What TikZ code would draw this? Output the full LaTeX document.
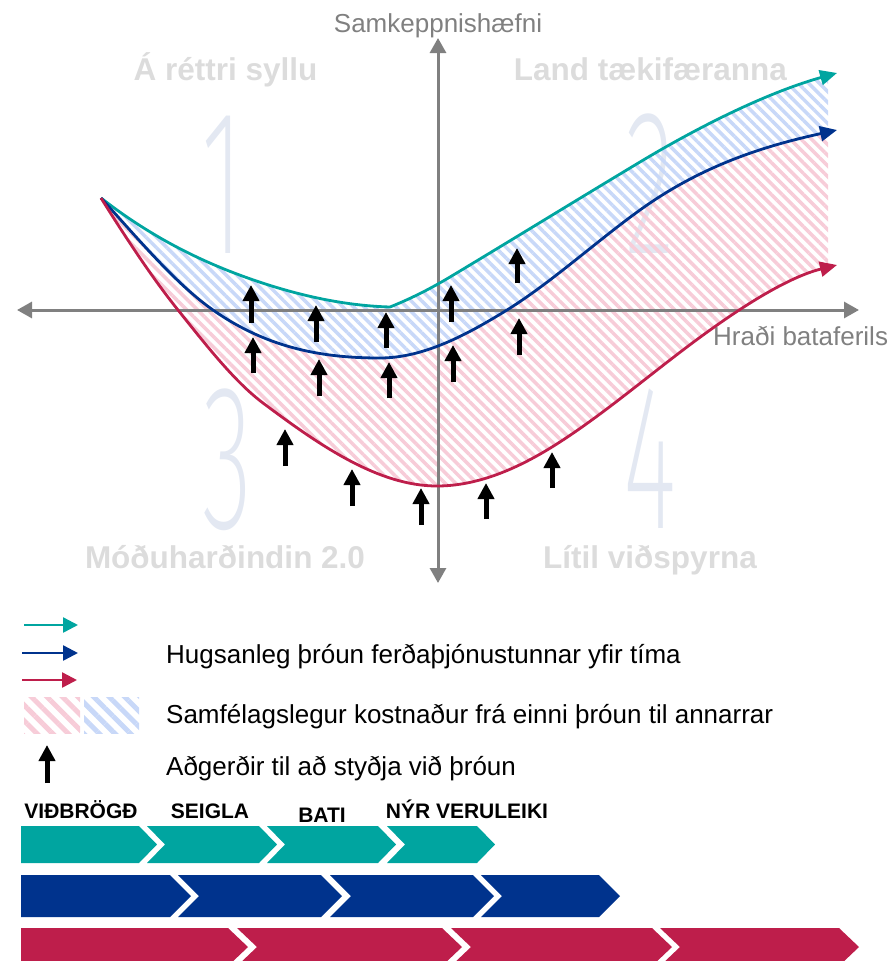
\documentclass[tikz,border=0pt]{standalone}
\usepackage{fontspec}
\setmainfont{Liberation Sans}
\IfFontExistsTF{Fira Sans ExtraLight}{\newfontfamily\thinfont{Fira Sans ExtraLight}}{\newfontfamily\thinfont{Liberation Sans}}
\usetikzlibrary{arrows.meta,patterns.meta}
\definecolor{cteal}{HTML}{00A5A0}
\definecolor{cblue}{HTML}{00338D}
\definecolor{cred}{HTML}{BE1E4B}
\definecolor{axgray}{HTML}{808080}
\definecolor{qgray}{HTML}{DCDCDC}
\definecolor{numc}{HTML}{E3E8F2}
\definecolor{hblue}{HTML}{C8D8F8}
\definecolor{hpink}{HTML}{F7CCD8}
\def\tealpath{(101,198) .. controls (149,235.4) and (197,259.7) .. (245,277)
  .. controls (293.3,294.4) and (341.7,305.6) .. (390,307)
  .. controls (410,299) and (430,289) .. (450,277)
  .. controls (513.3,239) and (576.7,200) .. (640,162)
  .. controls (705.7,122.6) and (771.3,91.4) .. (837,73)}
\def\bluepath{(101,198) .. controls (138.3,239) and (175.7,283.9) .. (213,310)
  .. controls (268.7,349) and (324.3,358) .. (380,358)
  .. controls (422.3,358) and (464.7,336.2) .. (507,310)
  .. controls (551.3,282.5) and (595.7,241.9) .. (640,210)
  .. controls (705.7,162.7) and (771.3,144.5) .. (837,130)}
\def\redpath{(101,198) .. controls (126.7,239.1) and (152.3,277.9) .. (178,310)
  .. controls (206.3,345.4) and (234.7,381.8) .. (263,403)
  .. controls (321,446.5) and (379,486) .. (437,486)
  .. controls (475.3,486) and (513.7,470.7) .. (552,447)
  .. controls (595.7,419.9) and (639.3,383.2) .. (683,350)
  .. controls (734.3,311) and (785.7,277.8) .. (837,265)}
\newcommand\chevflat[7]{\fill[#1] (#2,#4) -- (#3,#4) -- ({#3+#7},#5) -- (#3,#6) -- (#2,#6) -- cycle;}
\newcommand\chevnotch[7]{\fill[#1] (#2,#4) -- (#3,#4) -- ({#3+#7},#5) -- (#3,#6) -- (#2,#6) -- ({#2+#7},#5) -- cycle;}
\tikzset{
  axisline/.style={draw=axgray, line width=3pt, {Triangle[length=15pt,width=16pt]}-{Triangle[length=15pt,width=16pt]}},
  curve/.style={line width=2.8pt, -{Triangle[length=17pt,width=15pt]}},
  legarrow/.style={line width=2.5pt, -{Triangle[length=15pt,width=15pt]}},
  upar/.style={line width=5pt, -{Triangle[length=16pt,width=16pt]}},
  axlab/.style={text=axgray, inner sep=0pt, font=\fontsize{26}{30}\selectfont},
  qtitle/.style={text=qgray, inner sep=0pt, font=\bfseries\fontsize{31.5}{36}\selectfont},
  numtxt/.style={text=numc, inner sep=0pt, xscale=0.5, text depth=0pt, font=\thinfont\fontsize{207}{207}\selectfont},
  legtxt/.style={text=black, inner sep=0pt, font=\fontsize{26}{30}\selectfont},
  chevlab/.style={text=black, inner sep=0pt, font=\bfseries\fontsize{21}{25}\selectfont},
  hatchB/.style={pattern={Lines[angle=-45,distance=7.5pt,line width=3.5pt]}, pattern color=hblue},
  hatchR/.style={pattern={Lines[angle=-45,distance=7.5pt,line width=3.5pt]}, pattern color=hpink},
}
\begin{document}
\begin{tikzpicture}[x=1pt,y=-1pt]
\useasboundingbox (0,0) rectangle (895,961);
% big numbers
\node[numtxt, anchor=base] (n1) at (223,253) {1};
\node[numtxt, anchor=base] (n2) at (650,253) {2};
\node[numtxt, anchor=base] (n3) at (227,528) {3};
\node[numtxt, anchor=base] (n4) at (650,528) {4};
% quadrant titles
\node[qtitle, anchor=base] (q1) at (225.5,80) {Á réttri syllu};
\node[qtitle, anchor=base] (q2) at (650.5,80) {Land tækifæranna};
\node[qtitle, anchor=base] (q3) at (225,568) {Móðuharðindin 2.0};
\node[qtitle, anchor=base] (q4) at (650,568) {Lítil viðspyrna};
% hatched areas
\begin{scope}
  \clip (0,0) rectangle (828,961);
  \begin{scope}
    \clip \tealpath -- (900,1100) -- (0,1100) -- cycle;
    \fill[hatchB] \bluepath -- (900,-100) -- (0,-100) -- cycle;
  \end{scope}
  \begin{scope}
    \clip \bluepath -- (900,1100) -- (0,1100) -- cycle;
    \fill[hatchR] \redpath -- (900,-100) -- (0,-100) -- cycle;
  \end{scope}
\end{scope}
% axes
\draw[axisline] (17,310) -- (859,310);
\draw[axisline] (438,583) -- (438,38);
\node[axlab, anchor=base] (ylab) at (438,32) {Samkeppnishæfni};
\node[axlab, anchor=base west] (xlab) at (713,345) {Hraði bataferils};
% curves
\draw[curve, cteal] \tealpath;
\draw[curve, cblue] \bluepath;
\draw[curve, cred] \redpath;
% support arrows
\foreach \x/\t/\b in {251/285/323, 316/305/342, 386/312/348, 451/285/322, 517/248/283,
                      253/337/373, 319/359/396, 389/362/398, 453/345/382, 519/318/355,
                      285/429/466, 352/469/506, 421/488/525, 486/483/519, 552/452/488}
  \draw[upar] (\x,\b) -- (\x,\t);
% legend
\draw[legarrow, cteal] (24,625) -- (78,625);
\draw[legarrow, cblue] (22,653) -- (78,653);
\draw[legarrow, cred] (22,680) -- (77,680);
\fill[pattern={Lines[angle=-45,distance=11pt,line width=5pt]}, pattern color=hpink] (24,697) rectangle (80,733);
\fill[pattern={Lines[angle=-45,distance=11pt,line width=5pt]}, pattern color=hblue] (84,697) rectangle (139,733);
\draw[upar] (47,783) -- (47,745);
\node[legtxt, anchor=base west] (l1) at (166,663) {Hugsanleg þróun ferðaþjónustunnar yfir tíma};
\node[legtxt, anchor=base west] (l2) at (166,723) {Samfélagslegur kostnaður frá einni þróun til annarrar};
\node[legtxt, anchor=base west] (l3) at (166,775) {Aðgerðir til að styðja við þróun};
% phase labels
\node[chevlab, anchor=base] (c1) at (81,818) {VIÐBRÖGÐ};
\node[chevlab, anchor=base] (c2) at (210,818) {SEIGLA};
\node[chevlab, anchor=base] (c3) at (322,822) {BATI};
\node[chevlab, anchor=base] (c4) at (467,818) {NÝR VERULEIKI};
% chevrons
\chevflat{cteal}{21}{139}{826}{844.5}{863}{18}
\chevnotch{cteal}{147}{259}{826}{844.5}{863}{18}
\chevnotch{cteal}{267}{378}{826}{844.5}{863}{18}
\chevnotch{cteal}{387}{477}{826}{844.5}{863}{18}
\chevflat{cblue}{21}{170}{875}{896}{917}{21}
\chevnotch{cblue}{178}{321}{875}{896}{917}{21}
\chevnotch{cblue}{330}{473}{875}{896}{917}{21}
\chevnotch{cblue}{481}{599}{875}{896}{917}{21}
\chevflat{cred}{21}{228}{928}{947}{966}{20}
\chevnotch{cred}{237}{442}{928}{947}{966}{20}
\chevnotch{cred}{451}{652}{928}{947}{966}{20}
\chevnotch{cred}{660}{839}{928}{947}{966}{20}
\end{tikzpicture}
\end{document}
